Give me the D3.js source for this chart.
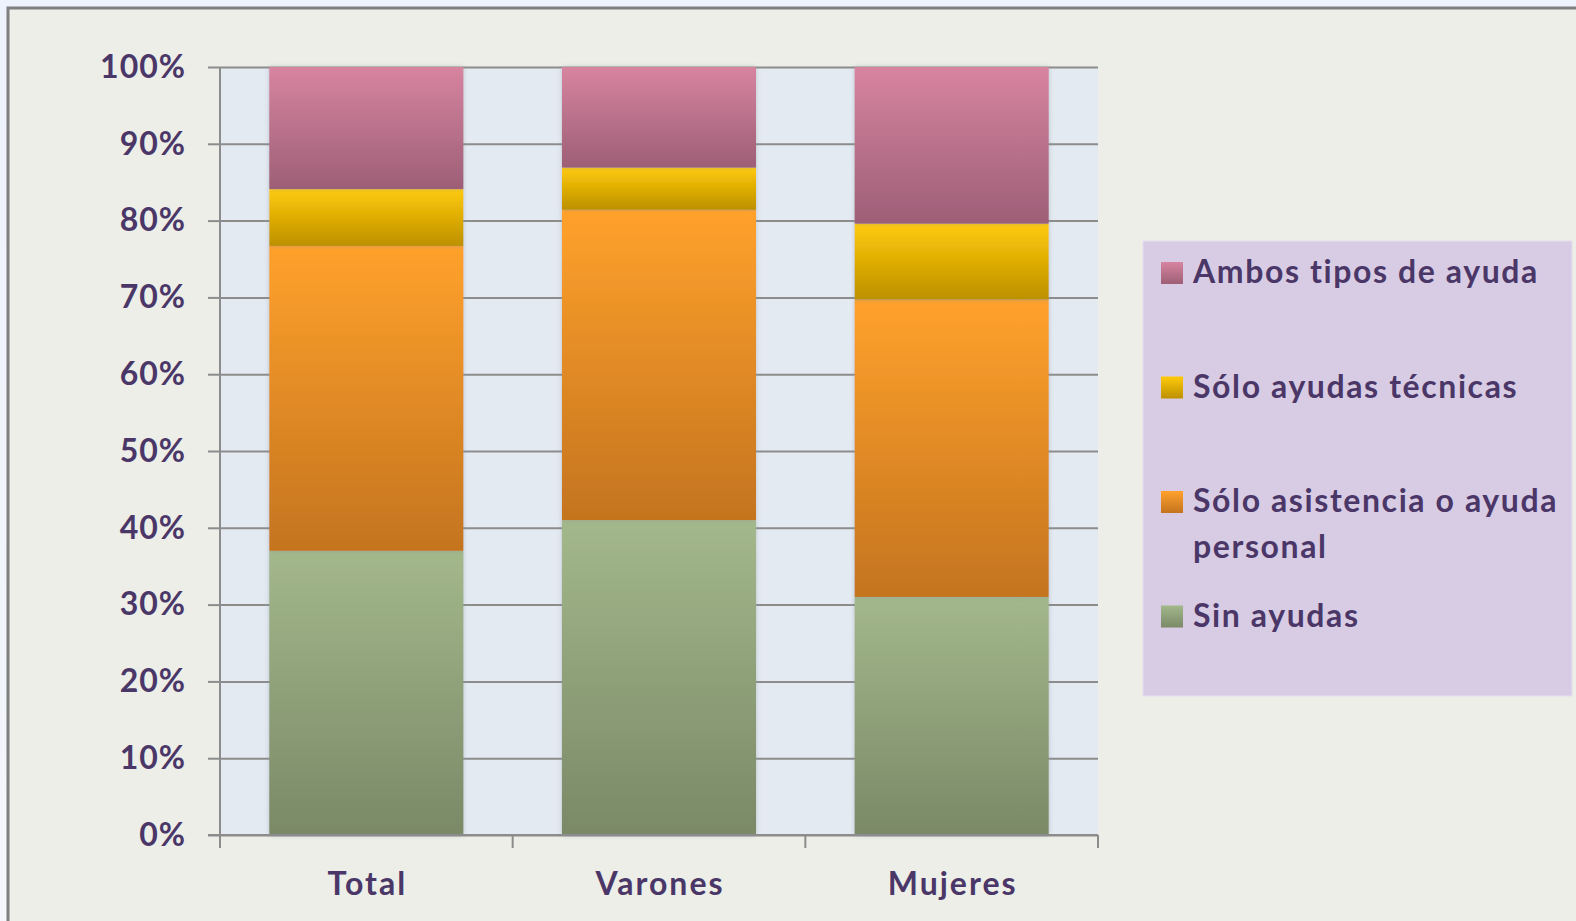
<!DOCTYPE html>
<html>
<head>
<meta charset="utf-8">
<script src="https://cdn.jsdelivr.net/npm/d3@7"></script>
<style>
  body { margin: 0; background: linear-gradient(#eef2fc, #f4f6fb); overflow: hidden; }
  svg { display: block; font-family: Lato, "Open Sans", sans-serif; font-weight: bold; }
</style>
</head>
<body>
<div id="chart"></div>
<script>
const W = 1576, H = 921;

// datos (porcentajes)
const categories = ["Total", "Varones", "Mujeres"];
const seriesKeys = ["sin", "asistencia", "tecnicas", "ambos"];
const seriesNames = ["Sin ayudas", "Sólo asistencia o ayuda personal", "Sólo ayudas técnicas", "Ambos tipos de ayuda"];
const sinAyudas = [37.0, 41.0, 31.0];
const asistencia = [39.7, 40.4, 38.7];
const tecnicas = [7.4, 5.5, 9.9];
const ambos = [15.9, 13.1, 20.4];
const yTicks = [0, 10, 20, 30, 40, 50, 60, 70, 80, 90, 100];

// colores (arriba, abajo) de cada degradado
const gradColors = {
  sin: ["#a3b88b", "#7a8967"],
  asistencia: ["#ffa12c", "#c4741f"],
  tecnicas: ["#ffca0a", "#bd9000"],
  ambos: ["#d784a0", "#9d5f76"]
};
const textColor = "#4a3768";

const rows = categories.map((c, i) => ({
  cat: c, sin: sinAyudas[i], asistencia: asistencia[i], tecnicas: tecnicas[i], ambos: ambos[i]
}));
const stacked = d3.stack().keys(seriesKeys)(rows);

const plot = { left: 220, right: 1098, top: 67, bottom: 835 };

const x = d3.scaleBand()
  .domain(categories)
  .range([plot.left, plot.right])
  .paddingInner(0.337)
  .paddingOuter(0.1685);
const y = d3.scaleLinear().domain([0, 100]).range([plot.bottom, plot.top]);

const svg = d3.select("#chart").append("svg")
  .attr("width", W)
  .attr("height", H);

const defs = svg.append("defs");
seriesKeys.forEach(k => {
  const g = defs.append("linearGradient")
    .attr("id", "grad-" + k)
    .attr("x1", 0).attr("y1", 0).attr("x2", 0).attr("y2", 1);
  g.append("stop").attr("offset", "0%").attr("stop-color", gradColors[k][0]);
  g.append("stop").attr("offset", "100%").attr("stop-color", gradColors[k][1]);
});
const shadow = defs.append("filter").attr("id", "shadow")
  .attr("x", "-10%").attr("y", "-5%").attr("width", "120%").attr("height", "110%");
shadow.append("feDropShadow")
  .attr("dx", 0).attr("dy", 0).attr("stdDeviation", 2.5)
  .attr("flood-color", "#8a8f99").attr("flood-opacity", 0.45);

// marco
svg.append("rect")
  .attr("x", 8).attr("y", 8)
  .attr("width", W + 20).attr("height", H + 20)
  .attr("fill", "#eceee7")
  .attr("stroke", "#7f7f7f")
  .attr("stroke-width", 3);

// area de trazado
svg.append("rect")
  .attr("x", plot.left).attr("y", plot.top)
  .attr("width", plot.right - plot.left)
  .attr("height", plot.bottom - plot.top)
  .attr("fill", "#e4eaf2");

// rejilla
const grid = svg.append("g")
  .attr("transform", `translate(${plot.left},0)`)
  .call(d3.axisLeft(y).tickValues(yTicks).tickSize(-(plot.right - plot.left)).tickFormat(""));
grid.select(".domain").remove();
grid.selectAll("line").attr("stroke", "#8c8c8c").attr("stroke-width", 2);

// barras
const layer = svg.append("g").selectAll("g")
  .data(stacked)
  .join("g")
  .attr("fill", d => `url(#grad-${d.key})`);
layer.selectAll("rect")
  .data(d => d)
  .join("rect")
  .attr("x", d => x(d.data.cat))
  .attr("y", d => y(d[1]))
  .attr("width", x.bandwidth())
  .attr("height", d => y(d[0]) - y(d[1]))
  .attr("filter", "url(#shadow)");

// eje Y
const yAxis = svg.append("g")
  .attr("transform", `translate(${plot.left},0)`)
  .call(d3.axisLeft(y).tickValues(yTicks).tickSizeInner(12).tickSizeOuter(0)
    .tickPadding(22).tickFormat(d => d + "%"));
yAxis.select(".domain").attr("stroke", "#8c8c8c").attr("stroke-width", 2)
  .attr("d", `M0,${plot.top}V${plot.bottom + 13}`);
yAxis.selectAll("line").attr("stroke", "#8c8c8c").attr("stroke-width", 2);
yAxis.selectAll("text")
  .attr("fill", textColor)
  .style("font-size", "32px")
  .style("letter-spacing", "1px")
  .style("font-weight", "bold")
  .style("font-family", "Lato, sans-serif");

// eje X
const xAxis = svg.append("g")
  .attr("transform", `translate(0,${plot.bottom})`)
  .call(d3.axisBottom(x).tickSize(0).tickPadding(37));
xAxis.select(".domain").attr("stroke", "#8c8c8c").attr("stroke-width", 2)
  .attr("d", `M${plot.left - 12},0H${plot.right}`);
xAxis.selectAll("text")
  .attr("fill", textColor)
  .attr("dx", 1)
  .style("font-size", "32px")
  .style("letter-spacing", "2px")
  .style("font-weight", "bold")
  .style("font-family", "Lato, sans-serif");
const bounds = [plot.left].concat(categories.map(c => x(c) + x.bandwidth() + x.step() * x.paddingInner() / 2));
bounds[bounds.length - 1] = plot.right;
xAxis.selectAll(".bound")
  .data(bounds)
  .join("line")
  .attr("class", "bound")
  .attr("x1", d => d).attr("x2", d => d)
  .attr("y1", 0).attr("y2", 13)
  .attr("stroke", "#8c8c8c").attr("stroke-width", 2);

// leyenda
const legend = svg.append("g");
legend.append("rect")
  .attr("x", 1143).attr("y", 241)
  .attr("width", 429).attr("height", 455)
  .attr("fill", "#d8cce4")
  .attr("stroke", "#e6def0").attr("stroke-width", 1);

const legendItems = [
  { key: "ambos", lines: ["Ambos tipos de ayuda"] },
  { key: "tecnicas", lines: ["Sólo ayudas técnicas"] },
  { key: "asistencia", lines: ["Sólo asistencia o ayuda", "personal"] },
  { key: "sin", lines: ["Sin ayudas"] }
];
const item = legend.selectAll(".item")
  .data(legendItems)
  .join("g")
  .attr("class", "item")
  .attr("transform", (d, i) => `translate(1161,${262 + i * 114.5})`);
item.append("rect")
  .attr("width", 22).attr("height", 22)
  .attr("fill", d => `url(#grad-${d.key})`);
item.append("text")
  .attr("x", 32)
  .attr("fill", textColor)
  .style("font-size", "32px")
  .style("letter-spacing", "1.6px")
  .selectAll("tspan")
  .data(d => d.lines)
  .join("tspan")
  .attr("x", 32)
  .attr("y", (d, i) => 21 + i * 45.5)
  .text(d => d);
</script>
</body>
</html>
